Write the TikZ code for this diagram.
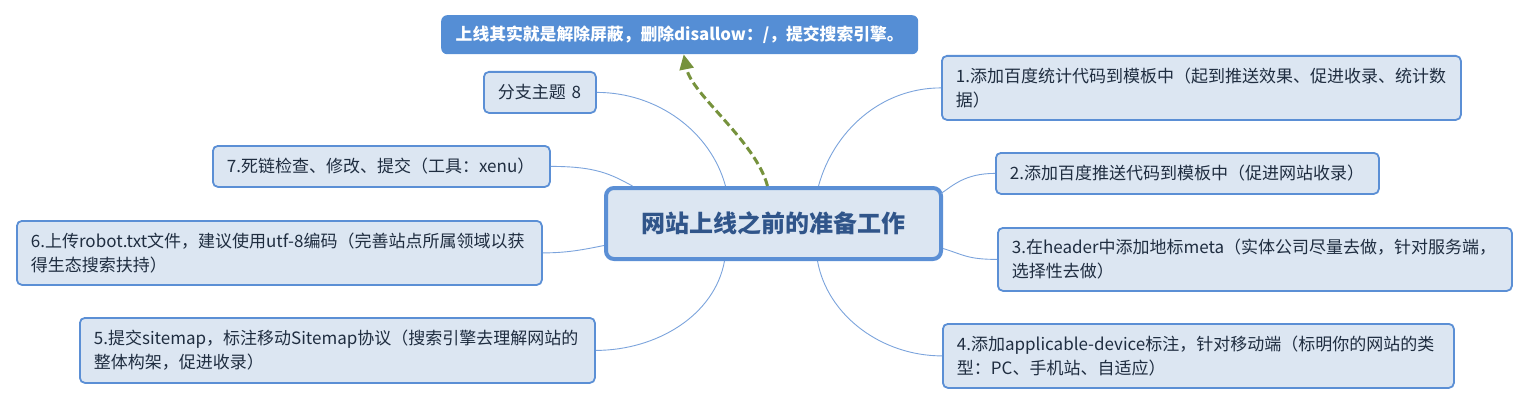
\documentclass[tikz,border=0pt]{standalone}
\usepackage{fontspec}
\setmainfont{Noto Sans CJK SC}
\usetikzlibrary{calc,arrows.meta}
\definecolor{nfill}{HTML}{DCE6F2}
\definecolor{nborder}{HTML}{5B8FD5}
\definecolor{nlink}{HTML}{7BA3DC}
\definecolor{ntext}{HTML}{1F2D40}
\definecolor{ctext}{HTML}{30558A}
\definecolor{topfill}{HTML}{558ED5}
\definecolor{arrowgreen}{HTML}{76923C}
\begin{document}
\begin{tikzpicture}[x=1pt,y=-1pt,
  topic/.style={draw=nborder, line width=1.8pt, fill=nfill, rounded corners=5pt,
    anchor=north west, inner xsep=14pt, inner ysep=0pt, align=left, text=ntext,
    font=\fontsize{17}{24}\selectfont},
  centraltopic/.style={draw=nborder, line width=4pt, fill=nfill, rounded corners=8pt,
    anchor=north west, inner sep=0pt, align=center, text=ctext,
    font=\fontsize{24}{28}\selectfont\bfseries},
  calloutbox/.style={fill=topfill, rounded corners=6pt, anchor=north west,
    inner sep=0pt, align=center, text=white, font=\fontsize{16.8}{20}\selectfont\bfseries},
  link/.style={draw=nlink, line width=0.9pt},
  relation/.style={draw=arrowgreen, line width=3pt, dash pattern=on 8pt off 4pt,
    -{Triangle[width=14pt,length=15pt]}}]
\useasboundingbox (0,0) rectangle (1528,404);

\node[calloutbox, minimum width=477pt, minimum height=39pt] (top) at (441,15)
  {上线其实就是解除屏蔽，删除disallow：/，提交搜索引擎。};

\node[centraltopic, minimum width=335pt, minimum height=71pt] (c) at (604,186)
  {网站上线之前的准备工作};

\node[topic, minimum width=112pt, minimum height=41pt, text width=84pt] (n8) at (483,71)
  {分支主题 8};
\node[topic, minimum width=337pt, minimum height=41pt, text width=309pt] (n7) at (212,145)
  {7.死链检查、修改、提交（工具：xenu）};
\node[topic, minimum width=525pt, minimum height=64pt, text width=497pt] (n6) at (16,220)
  {6.上传robot.txt文件，建议使用utf-8编码（完善站点所属领域以获\\得生态搜索扶持）};
\node[topic, minimum width=515pt, minimum height=65pt, text width=487pt] (n5) at (79,317)
  {5.提交sitemap，标注移动Sitemap协议（搜索引擎去理解网站的\\整体构架，促进收录）};
\node[topic, minimum width=519pt, minimum height=64pt, text width=491pt] (n1) at (941,55)
  {1.添加百度统计代码到模板中（起到推送效果、促进收录、统计数\\据）};
\node[topic, minimum width=383pt, minimum height=41pt, text width=355pt] (n2) at (995,152)
  {2.添加百度推送代码到模板中（促进网站收录）};
\node[topic, minimum width=514pt, minimum height=63pt, text width=486pt] (n3) at (997,227)
  {3.在header中添加地标meta（实体公司尽量去做，针对服务端，\\选择性去做）};
\node[topic, minimum width=511pt, minimum height=64pt, text width=483pt] (n4) at (942,323)
  {4.添加applicable-device标注，针对移动端（标明你的网站的类\\型：PC、手机站、自适应）};

% connectors
\draw[link] (n8.east) .. controls +(60,0) and +(-15,-55) .. ($(c.north)+(-48,0)$);
\draw[link] (n7.east) .. controls +(45,0) and +(-22,-12) .. ($(c.north)+(-141,0)$);
\draw[link] (n6.east) .. controls +(25,0) and +(-20,4) .. ($(c.west)+(0,22)$);
\draw[link] (n5.east) .. controls +(60,0) and +(-10,55) .. ($(c.south)+(-49,0)$);
\draw[link] (n1.west) .. controls +(-60,0) and +(15,-55) .. ($(c.north)+(45,0)$);
\draw[link] (n2.west) .. controls +(-30,0) and +(12,-8) .. ($(c.east)+(-2,-30)$);
\draw[link] (n3.west) .. controls +(-30,0) and +(20,6) .. ($(c.east)+(0,25)$);
\draw[link] (n4.west) .. controls +(-60,0) and +(10,55) .. ($(c.south)+(44,0)$);

% relationship arrow
\draw[relation] ($(c.north)+(-6,0)$) .. controls +(-12,-45) and +(8,40) .. ($(top.south)+(4,0)$);
\end{tikzpicture}
\end{document}
